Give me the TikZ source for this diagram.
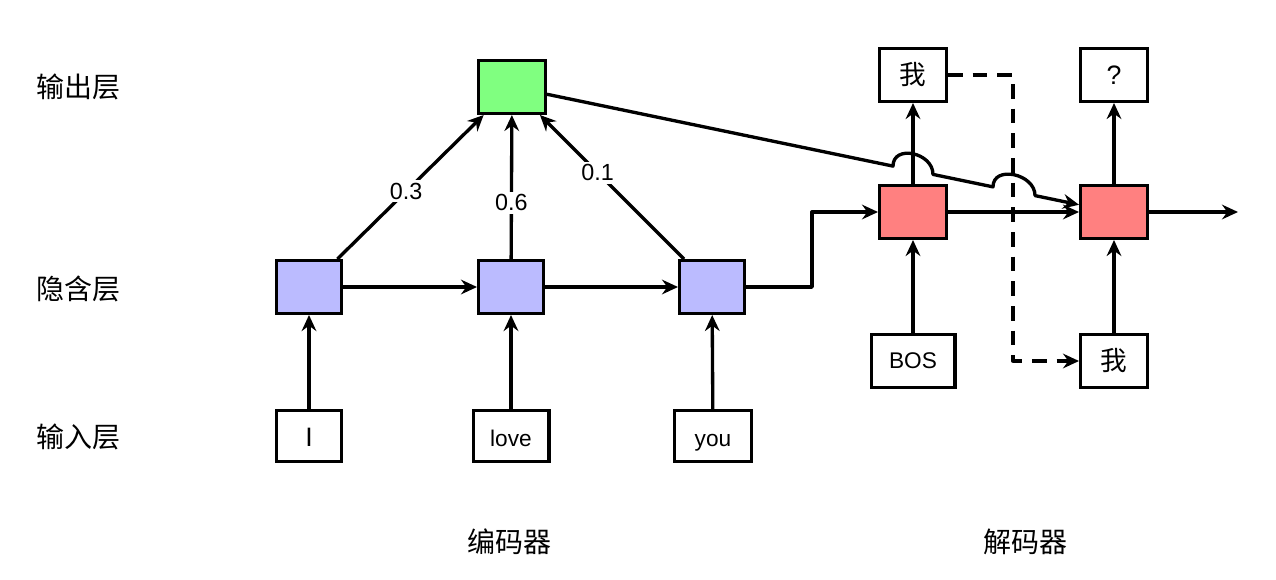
\documentclass[tikz,border=0pt]{standalone}
\usepackage{fontspec}
\setmainfont{Liberation Sans}
\newfontfamily\cjk{Noto Sans CJK SC}
\usetikzlibrary{arrows.meta,calc}
\definecolor{gbox}{RGB}{128,255,128}
\definecolor{bbox}{RGB}{187,187,255}
\definecolor{rbox}{RGB}{255,128,128}
\begin{document}
\begin{tikzpicture}[x=0.75pt,y=-0.75pt,
  box/.style={draw,line width=2.5pt,minimum width=50pt,minimum height=39.5pt,inner sep=0pt,font=\fontsize{17}{20}\selectfont},
  hid/.style={box,fill=bbox,minimum width=48.5pt},
  inp/.style={box,minimum height=38pt,text height=15pt,text depth=0pt},
  dec/.style={box,fill=rbox},
  lbl/.style={font=\cjk\fontsize{21}{25}\selectfont,inner sep=0pt},
  wt/.style={fill=white,inner sep=2pt,font=\fontsize{17.5}{20}\selectfont},
  conn/.style={line width=2.5pt,line join=round},
  arr/.style={conn,-{Stealth[length=12pt,width=11pt,inset=4pt]}},
  dsh/.style={arr,dash pattern=on 11pt off 7.5pt}]
\useasboundingbox[fill=white] (0,0) rectangle (1276,579);
% labels
\node[lbl] (L1) at (78,87) {输出层};
\node[lbl] (L2) at (78,289) {隐含层};
\node[lbl] (L3) at (78,437) {输入层};
\node[lbl] (L4) at (509,542) {编码器};
\node[lbl] (L5) at (1025,542) {解码器};
% encoder
\node[hid] (h1) at (309,287) {};
\node[hid] (h2) at (511,287) {};
\node[hid] (h3) at (712,287) {};
\node[inp,minimum width=48.5pt,font=\fontsize{20}{24}\selectfont] (i1) at (309,436) {I};
\node[inp,minimum width=56.75pt] (i2) at (511,436) {love};
\node[inp,minimum width=57.5pt] (i3) at (713,436) {you};
\node[box,fill=gbox] (out) at (512,87) {};
% decoder
\node[dec] (d1) at (913,212) {};
\node[dec] (d2) at (1114,212) {};
\node[box,font=\cjk\fontsize{20}{24}\selectfont] (o1) at (913,75) {我};
\node[box,font=\fontsize{20}{24}\selectfont] (o2) at (1114,75) {?};
\node[box,minimum width=62.75pt] (bos) at (913,361) {BOS};
\node[box,font=\cjk\fontsize{20}{24}\selectfont] (w2) at (1114,361) {我};
\coordinate (turn) at (812,0);
\coordinate (dk) at (1013,0);
\coordinate (rend) at (1238,212);
% encoder connectors
\draw[arr] (i1) -- (h1);
\draw[arr] (i2) -- (h2);
\draw[arr] (i3) -- (h3);
\draw[arr] (h1) -- (h2);
\draw[arr] (h2) -- (h3);
\draw[arr] (h1) -- node[wt,pos=0.47] {0.3} (out);
\draw[arr] (h2) -- node[wt,pos=0.39] {0.6} (out);
\draw[arr] (h3) -- node[wt,pos=0.6] {0.1} (out);
\draw[arr] (h3.east) -- (turn |- h3.east) -- (turn |- d1.west) -- (d1.west);
% decoder connectors
\draw[arr] (bos) -- (d1);
\draw[arr] (d1) -- (o1);
\draw[arr] (w2) -- (d2);
\draw[arr] (d2) -- (o2);
\draw[arr] (d1) -- (d2);
\draw[arr] (d2) -- (rend);
\draw[dsh] (o1.east) -- (dk |- o1.east) -- (dk |- w2.west) -- (w2.west);
% attention line with hops
\coordinate (a1) at ($(out)!0.6329!(d2)$);
\coordinate (a2) at ($(out)!0.6993!(d2)$);
\coordinate (b1) at ($(out)!0.7990!(d2)$);
\coordinate (b2) at ($(out)!0.8688!(d2)$);
\draw[arr] (out) -- (a1) .. controls ($(a1)+(0,-22)$) and ($(a2)+(0,-22)$) .. (a2)
  -- (b1) .. controls ($(b1)+(0,-22)$) and ($(b2)+(0,-22)$) .. (b2) -- (d2);
\end{tikzpicture}
\end{document}
